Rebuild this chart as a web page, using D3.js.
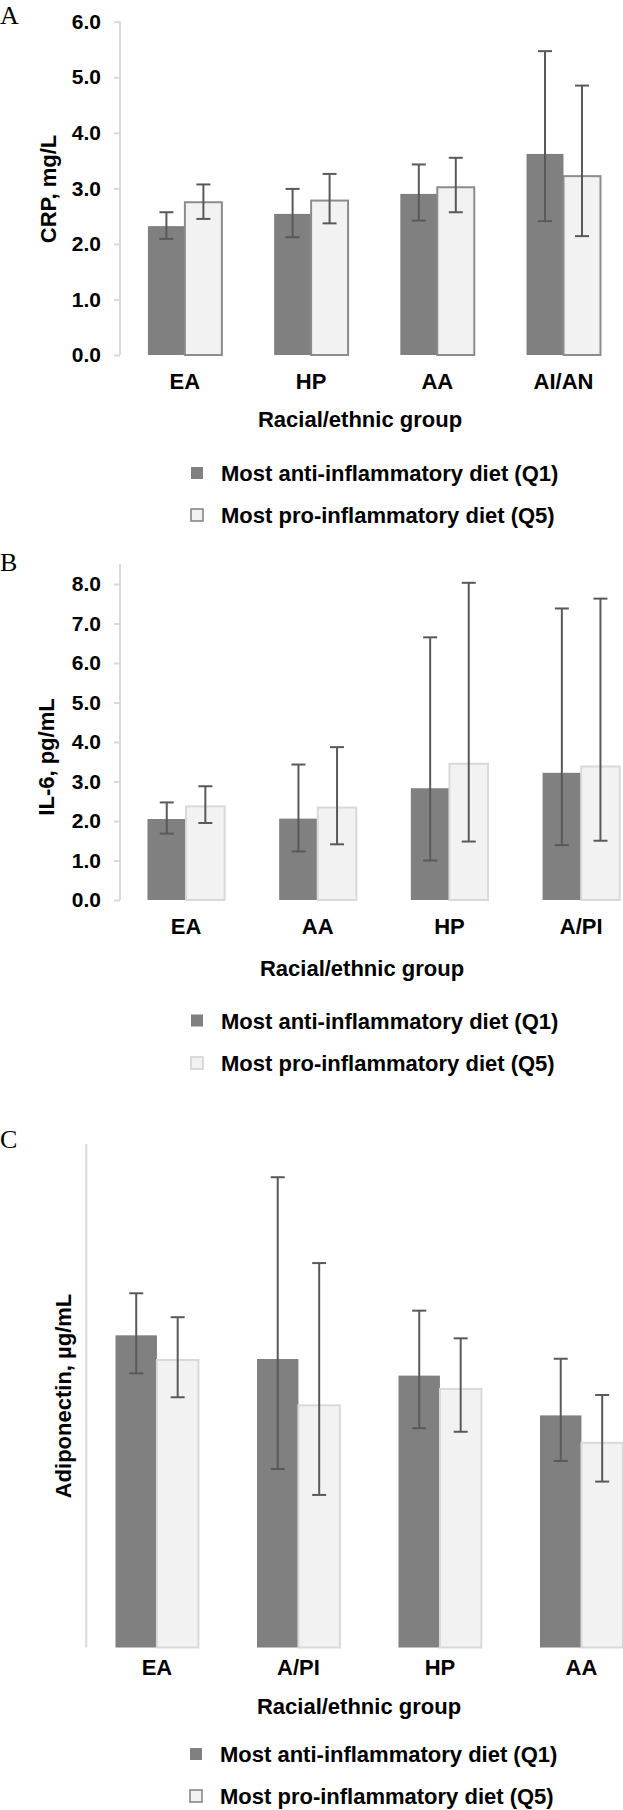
<!DOCTYPE html>
<html><head><meta charset="utf-8">
<script src="https://cdn.jsdelivr.net/npm/d3@7"></script>
<style>
html,body{margin:0;padding:0;background:#fff;}
svg{display:block;}
text{font-family:"Liberation Sans",Arial,sans-serif;font-weight:bold;fill:#000;}
text.letter{font-family:"Liberation Serif","Times New Roman",serif;font-weight:normal;}
</style></head><body>
<svg id="chart" width="623" height="1810"></svg>
<script>
// ---------- data ----------
const seriesNames = ["Most anti-inflammatory diet (Q1)", "Most pro-inflammatory diet (Q5)"];
const xTitle = "Racial/ethnic group";

// Panel A: CRP, mg/L
const crpGroups = ["EA", "HP", "AA", "AI/AN"];
const crpQ1   = [2.32, 2.54, 2.90, 3.62];
const crpQ1Lo = [2.09, 2.12, 2.42, 2.41];
const crpQ1Hi = [2.57, 2.99, 3.43, 5.47];
const crpQ5   = [2.75, 2.78, 3.02, 3.22];
const crpQ5Lo = [2.45, 2.37, 2.57, 2.14];
const crpQ5Hi = [3.07, 3.26, 3.55, 4.85];
const crpTicks = [0, 1, 2, 3, 4, 5, 6];

// Panel B: IL-6, pg/mL
const il6Groups = ["EA", "AA", "HP", "A/PI"];
const il6Q1   = [2.05, 2.06, 2.83, 3.22];
const il6Q1Lo = [1.68, 1.23, 1.00, 1.39];
const il6Q1Hi = [2.47, 3.43, 6.65, 7.38];
const il6Q5   = [2.37, 2.34, 3.45, 3.38];
const il6Q5Lo = [1.95, 1.41, 1.48, 1.50];
const il6Q5Hi = [2.88, 3.87, 8.03, 7.63];
const il6Ticks = [0, 1, 2, 3, 4, 5, 6, 7, 8];

// Panel C: Adiponectin, µg/mL (axis unlabelled in the source; relative units)
const adiGroups = ["EA", "A/PI", "HP", "AA"];
const adiQ1   = [12.40, 11.46, 10.80, 9.22];
const adiQ1Lo = [10.89, 7.09, 8.71, 7.41];
const adiQ1Hi = [14.07, 18.68, 13.38, 11.47];
const adiQ5   = [11.42, 9.62, 10.27, 8.13];
const adiQ5Lo = [9.94, 6.06, 8.57, 6.59];
const adiQ5Hi = [13.12, 15.27, 12.28, 10.03];

// ---------- panels (built from the arrays above) ----------
const panels = [
  { letter: "A", letterY: 23.5, groups: crpGroups,
    vals: [crpQ1, crpQ5], lo: [crpQ1Lo, crpQ5Lo], hi: [crpQ1Hi, crpQ5Hi],
    ticks: crpTicks, yMax: 6, yTitle: "CRP, mg/L",
    y0: 355, y1: 21.7, axisTop: 21.7, axisX: 120, xStart: 121.8, xEnd: 626.6,
    yTitleX: 56, yTitleY: 189, catY: 388.5, titleY: 427, titleX: 360,
    legX: 191, legY: [481, 523], lightStroke: "#8c8c8c", legStroke2: "#7f7f7f" },
  { letter: "B", letterY: 571, groups: il6Groups,
    vals: [il6Q1, il6Q5], lo: [il6Q1Lo, il6Q5Lo], hi: [il6Q1Hi, il6Q5Hi],
    ticks: il6Ticks, yMax: 8, yTitle: "IL-6, pg/mL",
    y0: 900, y1: 584, axisTop: 564, axisX: 120, xStart: 120.2, xEnd: 647,
    yTitleX: 54, yTitleY: 757, catY: 933.5, titleY: 976, titleX: 362,
    legX: 191, legY: [1028.5, 1071], lightStroke: "#d9d9d9", legStroke2: "#d0d0d0" },
  { letter: "C", letterY: 1148, groups: adiGroups,
    vals: [adiQ1, adiQ5], lo: [adiQ1Lo, adiQ5Lo], hi: [adiQ1Hi, adiQ5Hi],
    ticks: null, yMax: 20, yTitle: "Adiponectin, \u00b5g/mL",
    y0: 1647.5, y1: 1144, axisTop: 1144, axisX: 86.3, xStart: 86.2, xEnd: 652.2,
    yTitleX: 71, yTitleY: 1396, catY: 1674.5, titleY: 1713.5, titleX: 359,
    legX: 190, legY: [1762, 1804], lightStroke: "#d9d9d9", legStroke2: "#808080" }
];

const darkFill = "#808080", lightFill = "#f2f2f2", errColor = "#595959", axisColor = "#d9d9d9";
const svg = d3.select("#chart");

panels.forEach(p => {
  const g = svg.append("g");
  const y = d3.scaleLinear().domain([0, p.yMax]).range([p.y0, p.y1]);
  const x0 = d3.scaleBand().domain(p.groups).range([p.xStart, p.xEnd])
    .paddingInner(0.414).paddingOuter(0.207);
  const x1 = d3.scaleBand().domain([0, 1]).range([0, x0.bandwidth()]);

  // panel letter
  g.append("text").attr("class", "letter").attr("x", 0).attr("y", p.letterY)
    .attr("font-size", 26).text(p.letter);

  // vertical axis line
  g.append("line").attr("x1", p.axisX).attr("x2", p.axisX)
    .attr("y1", p.y0).attr("y2", p.axisTop)
    .attr("stroke", axisColor).attr("stroke-width", 2);

  if (p.ticks) {
    const ag = g.append("g").attr("transform", `translate(${p.axisX},0)`)
      .call(d3.axisLeft(y).tickValues(p.ticks).tickFormat(d3.format(".1f"))
        .tickSize(6).tickSizeOuter(0).tickPadding(13));
    ag.attr("font-size", 21).attr("font-family", null);
    ag.select(".domain").remove();
    ag.selectAll(".tick line").attr("stroke", axisColor).attr("stroke-width", 2);
    ag.selectAll(".tick text").attr("fill", "#000");
  }

  // y title
  g.append("text")
    .attr("transform", `translate(${p.yTitleX},${p.yTitleY}) rotate(-90)`)
    .attr("text-anchor", "middle").attr("font-size", 22)
    .text(p.yTitle);

  // category labels
  const xg = g.append("g").attr("transform", `translate(0,${p.y0})`)
    .call(d3.axisBottom(x0).tickSize(0).tickPadding(0));
  xg.attr("font-size", 22).attr("font-family", null);
  xg.select(".domain").remove();
  xg.selectAll(".tick text").attr("dy", null).attr("y", p.catY - p.y0).attr("fill", "#000");

  // x title
  g.append("text").attr("x", p.titleX).attr("y", p.titleY)
    .attr("text-anchor", "middle").attr("font-size", 22).text(xTitle);

  // bars
  const rows = [];
  p.groups.forEach((grp, i) => {
    [0, 1].forEach(s => rows.push({ grp, s, v: p.vals[s][i], lo: p.lo[s][i], hi: p.hi[s][i] }));
  });
  g.append("g").selectAll("rect").data(rows).join("rect")
    .attr("x", d => x0(d.grp) + x1(d.s))
    .attr("width", x1.bandwidth())
    .attr("y", d => y(d.v))
    .attr("height", d => y(0) - y(d.v))
    .attr("fill", d => d.s === 0 ? darkFill : lightFill)
    .attr("stroke", d => d.s === 0 ? "none" : p.lightStroke)
    .attr("stroke-width", 2);

  // error bars
  const eg = g.append("g").attr("stroke", errColor).attr("stroke-width", 2);
  const cx = d => x0(d.grp) + x1(d.s) + x1.bandwidth() / 2;
  eg.selectAll("line.v").data(rows).join("line").attr("class", "v")
    .attr("x1", cx).attr("x2", cx).attr("y1", d => y(d.lo)).attr("y2", d => y(d.hi));
  eg.selectAll("line.t").data(rows).join("line").attr("class", "t")
    .attr("x1", d => cx(d) - 7).attr("x2", d => cx(d) + 7)
    .attr("y1", d => y(d.hi)).attr("y2", d => y(d.hi));
  eg.selectAll("line.b").data(rows).join("line").attr("class", "b")
    .attr("x1", d => cx(d) - 7).attr("x2", d => cx(d) + 7)
    .attr("y1", d => y(d.lo)).attr("y2", d => y(d.lo));

  // legend
  const lg = g.append("g");
  seriesNames.forEach((name, s) => {
    const by = p.legY[s];
    lg.append("rect").attr("x", p.legX).attr("y", by - 14).attr("width", 12).attr("height", 12)
      .attr("fill", s === 0 ? darkFill : lightFill)
      .attr("stroke", s === 0 ? "none" : p.legStroke2).attr("stroke-width", 1.5);
    lg.append("text").attr("x", p.legX + 30).attr("y", by).attr("font-size", 22).text(name);
  });
});
</script>
</body></html>
